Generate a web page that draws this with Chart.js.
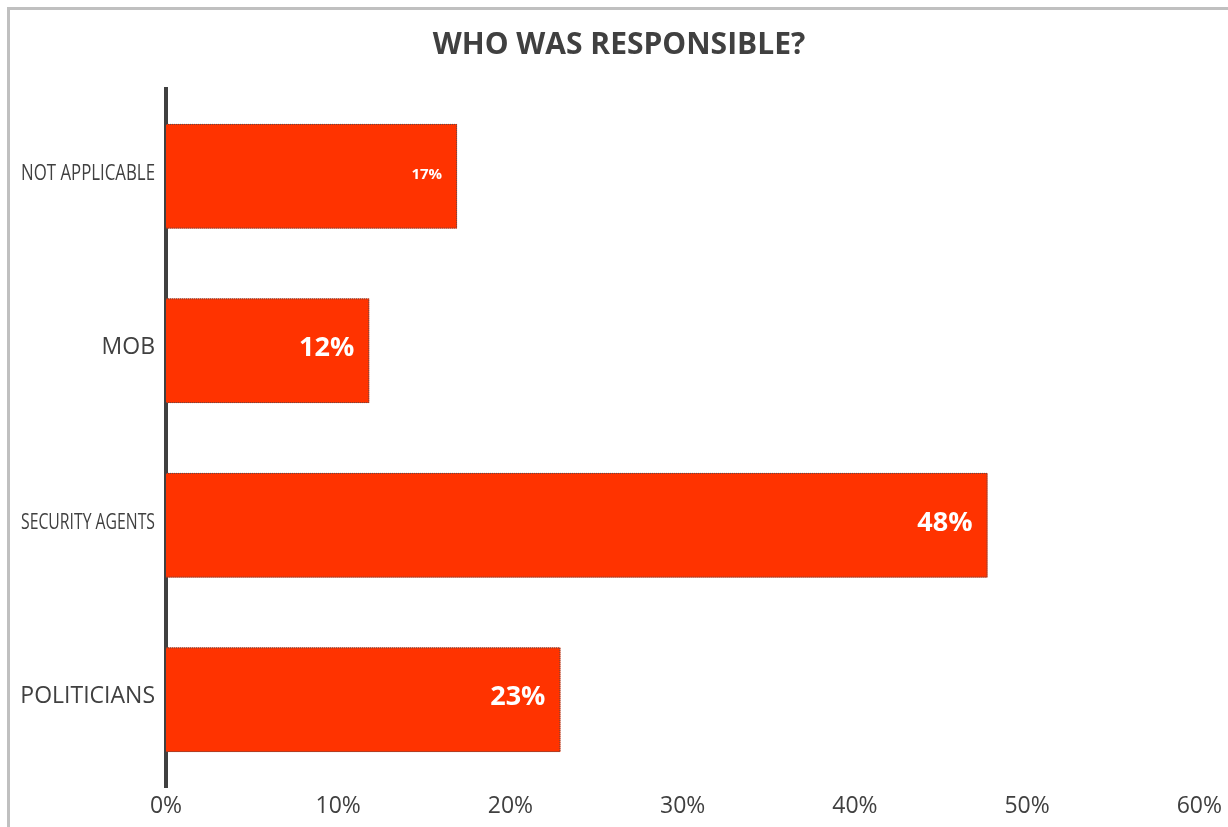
<!DOCTYPE html>
<html>
<head>
<meta charset="utf-8">
<script src="https://cdn.jsdelivr.net/npm/chart.js@4/dist/chart.umd.min.js"></script>
<style>
  html, body { margin: 0; padding: 0; background: #ffffff; overflow: hidden; }
  #wrap { position: relative; width: 1228px; height: 827px; }
  #frame {
    position: absolute; left: 7px; top: 7px; width: 1240px; height: 840px;
    border-left: 3px solid #c0c0c0; border-top: 3px solid #c0c0c0;
    box-sizing: border-box; pointer-events: none;
  }
  canvas { position: absolute; left: 0; top: 0; }
</style>
</head>
<body>
<div id="wrap">
  <canvas id="chart" width="1228" height="827"></canvas>
  <div id="frame"></div>
</div>
<script>
// Responsibility categories, listed top to bottom
const categories = ['NOT APPLICABLE', 'MOB', 'SECURITY AGENTS', 'POLITICIANS'];
// Share of responses for each category (fraction of all answers)
const shares = [0.169, 0.118, 0.477, 0.229];
// Percentage axis ticks
const axisTicks = [0, 0.1, 0.2, 0.3, 0.4, 0.5, 0.6];

const TEXT = '#404040';
const BAR = '#ff3300';
const FONT = '"Open Sans", sans-serif';

// Long category names are set in a condensed face, squeezed to this width
const narrowCats = ['NOT APPLICABLE', 'SECURITY AGENTS'];
const NARROW_WIDTH = 134;
// Per-bar value label size
const valueFontSize = [15, 27, 27, 27];

// Category labels on the left of the vertical axis
const categoryLabels = {
  id: 'categoryLabels',
  afterDraw(chart) {
    const { ctx } = chart;
    const yScale = chart.scales.y;
    const right = yScale.right - 11;
    ctx.save();
    ctx.fillStyle = TEXT;
    ctx.textAlign = 'right';
    ctx.textBaseline = 'middle';
    chart.data.labels.forEach((lbl, i) => {
      const y = yScale.getPixelForValue(i) - 3;
      if (narrowCats.includes(lbl)) {
        ctx.font = '22px ' + FONT;
        const w = ctx.measureText(lbl).width;
        const k = Math.min(1, NARROW_WIDTH / w);
        ctx.save();
        ctx.translate(right, y);
        ctx.scale(k, 1);
        ctx.fillText(lbl, 0, 0);
        ctx.restore();
      } else {
        ctx.font = '23px ' + FONT;
        ctx.fillText(lbl, right, y);
      }
    });
    ctx.restore();
  }
};

// Dotted bar outlines and white value labels inside the bar ends
const valueLabels = {
  id: 'valueLabels',
  afterDatasetsDraw(chart) {
    const { ctx } = chart;
    const meta = chart.getDatasetMeta(0);
    ctx.save();
    meta.data.forEach((bar, i) => {
      const top = bar.y - bar.height / 2;
      ctx.setLineDash([1, 1]);
      ctx.lineWidth = 1;
      ctx.strokeStyle = '#5a4a4a';
      ctx.beginPath();
      ctx.moveTo(bar.base, top + 0.5);
      ctx.lineTo(bar.x - 0.5, top + 0.5);
      ctx.lineTo(bar.x - 0.5, top + bar.height - 0.5);
      ctx.lineTo(bar.base, top + bar.height - 0.5);
      ctx.stroke();
      ctx.setLineDash([]);
      const v = chart.data.datasets[0].data[i];
      ctx.fillStyle = '#ffffff';
      ctx.font = 'bold ' + valueFontSize[i] + 'px ' + FONT;
      ctx.textAlign = 'right';
      ctx.textBaseline = 'middle';
      ctx.fillText(Math.round(v * 100) + '%', bar.x - 15, bar.y - 2);
    });
    ctx.restore();
  }
};

new Chart(document.getElementById('chart'), {
  type: 'bar',
  data: {
    labels: categories,
    datasets: [{
      data: shares,
      backgroundColor: BAR,
      borderWidth: 0,
      categoryPercentage: 0.6,
      barPercentage: 1.0
    }]
  },
  options: {
    indexAxis: 'y',
    responsive: false,
    animation: false,
    layout: { padding: { left: 14, right: 4, top: 0, bottom: 0 } },
    plugins: {
      legend: { display: false },
      tooltip: { enabled: false },
      title: {
        display: true,
        text: 'WHO WAS RESPONSIBLE?',
        color: TEXT,
        font: { family: FONT, size: 30, weight: 'bold', lineHeight: 1.2 },
        padding: { top: 27, bottom: 26 }
      }
    },
    scales: {
      x: {
        min: 0,
        max: 0.6,
        afterBuildTicks(scale) { scale.ticks = axisTicks.map(v => ({ value: v })); },
        afterFit(scale) { scale.height = 40; },
        grid: { display: false, drawTicks: false },
        border: { display: false },
        ticks: {
          color: TEXT,
          padding: 6,
          font: { family: FONT, size: 23 },
          callback: v => Math.round(v * 100) + '%'
        }
      },
      y: {
        afterFit(scale) { scale.width = 152; },
        grid: { display: false, drawTicks: false },
        border: { display: true, color: '#404040', width: 4 },
        ticks: { display: false }
      }
    }
  },
  plugins: [valueLabels, categoryLabels]
});
</script>
</body>
</html>
